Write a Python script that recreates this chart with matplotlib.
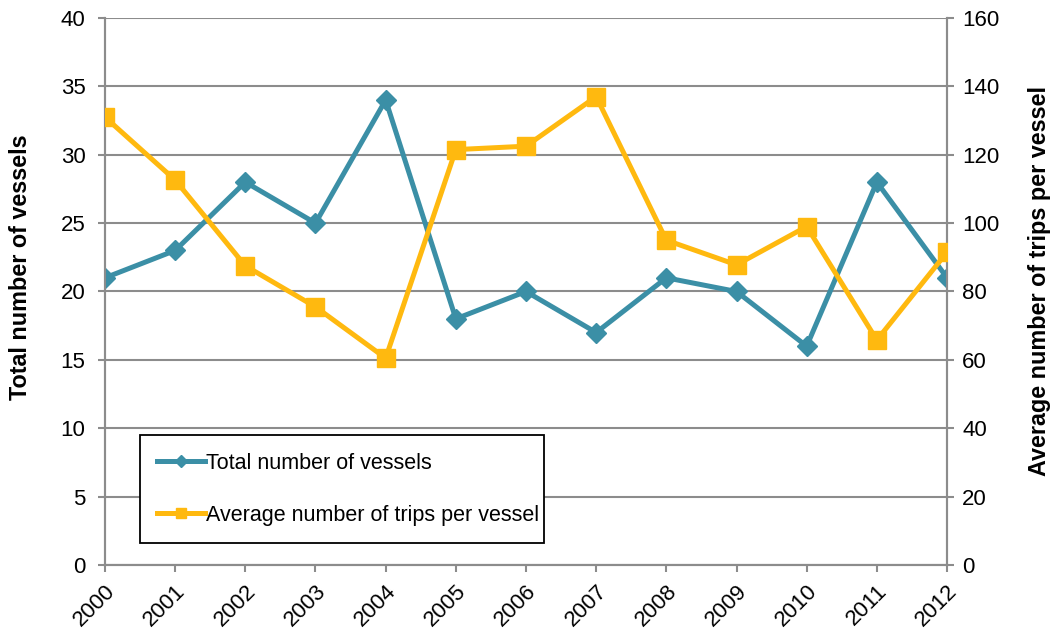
import matplotlib.pyplot as plt

plt.rcParams['font.family'] = ['Liberation Sans', 'DejaVu Sans']

years = ['2000', '2001', '2002', '2003', '2004', '2005', '2006',
         '2007', '2008', '2009', '2010', '2011', '2012']
vessels = [21, 23, 28, 25, 34, 18, 20, 17, 21, 20, 16, 28, 21]
trips = [131, 112.6, 87.5, 75.5, 60.5, 121.5, 122.5, 137, 95, 87.8, 99, 65.8, 91.5]

blue = '#3B8FA6'
gold = '#FFB90F'
grid_col = '#8C8C8C'

fig = plt.figure(figsize=(10.54, 6.35), dpi=100)
ax1 = fig.add_axes([0.0996, 0.1102, 0.7989, 0.8615])
ax2 = ax1.twinx()

x = list(range(len(years)))
l1, = ax1.plot(x, vessels, color=blue, lw=3.6, marker='D', ms=10,
               label='Total number of vessels', zorder=3)
l2, = ax2.plot(x, trips, color=gold, lw=3.6, marker='s', ms=13,
               label='Average number of trips per vessel', zorder=3)

ax1.set_xlim(0, len(years) - 1)
ax1.set_ylim(0, 40)
ax1.set_yticks(range(0, 41, 5))
ax2.set_ylim(0, 160)
ax2.set_yticks(range(0, 161, 20))

ax1.set_xticks(x)
ax1.set_xticklabels(years, rotation=45, ha='right', rotation_mode='anchor')
ax1.yaxis.grid(True, color=grid_col, lw=1.5)
ax1.set_axisbelow(True)

for ax in (ax1, ax2):
    ax.spines['top'].set_visible(False)
    for side in ('left', 'right', 'bottom'):
        ax.spines[side].set_color(grid_col)
        ax.spines[side].set_linewidth(1.5)
    ax.tick_params(colors=grid_col, labelcolor='black', labelsize=16,
                   width=1.5, length=5)
ax1.tick_params(axis='y', pad=9)
ax1.tick_params(axis='x', pad=6)
ax2.tick_params(axis='y', pad=6)

ax1.set_ylabel('Total number of vessels', fontsize=16.8, fontweight='bold')
ax1.yaxis.set_label_coords(-0.0867, 0.545)
ax2.set_ylabel('Average number of trips per vessel', fontsize=16.8, fontweight='bold')
ax2.yaxis.set_label_coords(1.096, 0.519)

leg = ax2.legend(handles=[l1, l2], loc='lower left',
                 bbox_to_anchor=(0.0416, 0.04, 0.48, 0.203), mode='expand',
                 borderaxespad=0, fontsize=15.5, handlelength=2.2, handletextpad=0.05,
                 labelspacing=1.45, markerscale=0.6, fancybox=False,
                 framealpha=1, borderpad=0.8)
leg.get_frame().set_edgecolor('black')
leg.get_frame().set_linewidth(1.3)

fig.savefig('out.png', dpi=100)
